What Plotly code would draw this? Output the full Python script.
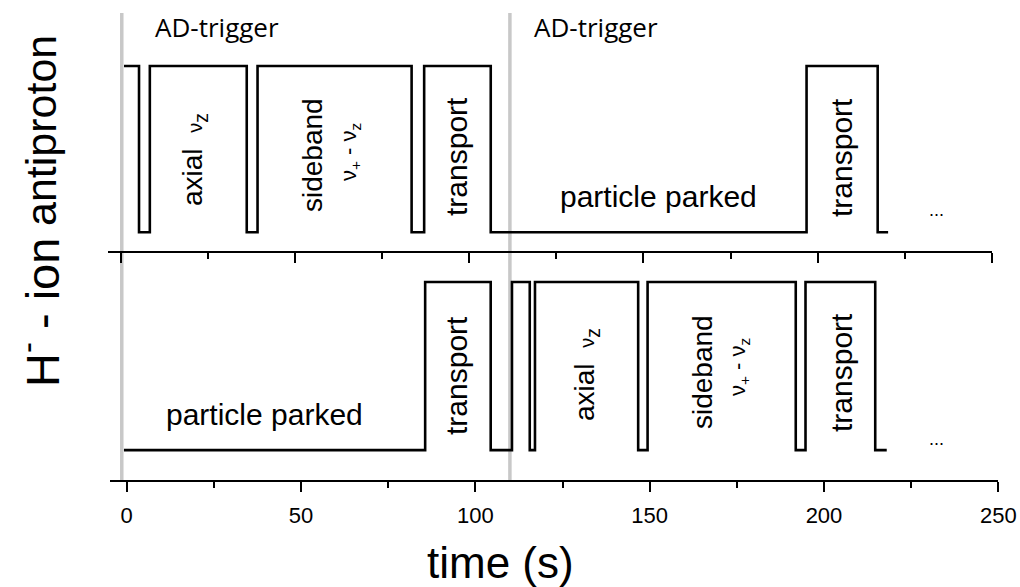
import plotly.graph_objects as go

# ---- data (time in s) ----
pbar_edges = [1.0, 5.3, 8.4, 36.2, 39.3, 83.5, 87.1, 106.2, 196.8, 217.2, 220.2]
pbar_states = [1, 0, 1, 0, 1, 0, 1, 0, 1, 0]

hion_edges = [-0.8, 85.6, 104.4, 110.5, 115.6, 117.1, 146.7, 149.4, 191.9, 194.7, 214.7, 218.0]
hion_states = [0, 1, 0, 1, 0, 1, 0, 1, 0, 1, 0]

ad_trigger_times = [0.35, 111.7]
tick_values = [0, 50, 100, 150, 200, 250]
tick_labels = ["0", "50", "100", "150", "200", "250"]

HIGH, LOW = 1.0, 0.1

W, H = 1020, 587
def px(x):
    return x / W
def py(y):
    return 1 - y / H

def levels(states):
    ys = [HIGH if s else LOW for s in states]
    return ys + [ys[-1]]

FONT = "Liberation Sans, Arial, sans-serif"
TICKFONT = dict(family="Liberation Sans, Arial", size=22, color="black")

fig = go.Figure()
fig.add_trace(go.Scatter(x=pbar_edges, y=levels(pbar_states), mode="lines",
                         line=dict(shape="hv", color="black", width=2.6),
                         xaxis="x", yaxis="y", hoverinfo="skip"))
fig.add_trace(go.Scatter(x=hion_edges, y=levels(hion_states), mode="lines",
                         line=dict(shape="hv", color="black", width=2.6),
                         xaxis="x2", yaxis="y2", hoverinfo="skip"))

for t in ad_trigger_times:
    fig.add_shape(type="line", xref="x", yref="paper", x0=t, x1=t,
                  y0=py(480), y1=py(13), line=dict(color="#c8c8c8", width=3.5),
                  layer="below")

axis_common = dict(showline=True, linecolor="black", linewidth=2, mirror=False,
                   ticks="outside", tickcolor="black", tickwidth=2, ticklen=10,
                   showgrid=False, zeroline=False, automargin=False,
                   tickmode="array", tickvals=tick_values, ticktext=tick_labels,
                   minor=dict(ticks="outside", dtick=25, tick0=0, ticklen=6,
                              tickwidth=2, tickcolor="black", showgrid=False))

fig.update_layout(
    width=W, height=H, autosize=False,
    margin=dict(l=0, r=0, t=0, b=0, autoexpand=False),
    paper_bgcolor="white", plot_bgcolor="white",
    showlegend=False,
    xaxis=dict(domain=[px(108), px(992)], range=[-3.6, 250], anchor="y",
               showticklabels=False, **axis_common),
    yaxis=dict(domain=[py(250.7), py(29)], range=[0, 1.2], visible=False, automargin=False),
    xaxis2=dict(domain=[px(110), px(998.3)], range=[-4.8, 250], anchor="y2",
                showticklabels=True, ticklabelstandoff=5, ticklabeloverflow="allow",
                tickfont=TICKFONT, **axis_common),
    yaxis2=dict(domain=[py(480), py(263.3)], range=[-0.06, 1.1], visible=False, automargin=False),
)

def ann(text, x, y, size, angle=0, family=FONT, xanchor="center", yanchor="middle"):
    fig.add_annotation(text=text, x=px(x), y=py(y), xref="paper", yref="paper",
                       showarrow=False, textangle=angle,
                       xanchor=xanchor, yanchor=yanchor,
                       font=dict(family=family, size=size, color="black"))

nu_axial = "axial  <span style='font-size:20px'>ν</span><sub>z</sub>"
nu_side = "ν<sub>+</sub> - ν<sub>z</sub>"

# side labels
ann("antiproton", 41, 131, 43, -90)
ann("H<sup>-</sup> - ion", 39, 313, 47, -90)

# AD trigger labels
ann("AD-trigger", 153, 27, 26, 0, family="Open Sans, Noto Sans, sans-serif", xanchor="left")
ann("AD-trigger", 532, 27, 26, 0, family="Open Sans, Noto Sans, sans-serif", xanchor="left")

# top panel
ann(nu_axial, 194, 160, 28, -90)
ann("sideband", 312, 155, 28, -90)
ann(nu_side, 350, 152, 22, -90)
ann("transport", 456, 157, 30, -90)
ann("particle parked", 658, 197, 30)
ann("transport", 841, 158, 30, -90)
ann("...", 936, 210, 18)

# bottom panel
ann("particle parked", 264, 414, 30)
ann("transport", 456, 376, 30, -90)
ann(nu_axial, 586, 375, 28, -90)
ann("sideband", 702, 372, 28, -90)
ann(nu_side, 739, 367, 22, -90)
ann("transport", 841, 373, 30, -90)
ann("...", 936, 439, 18)

# x-axis title
ann("time (s)", 500, 562, 44)

fig.write_html("out.html", config={"responsive": False})
